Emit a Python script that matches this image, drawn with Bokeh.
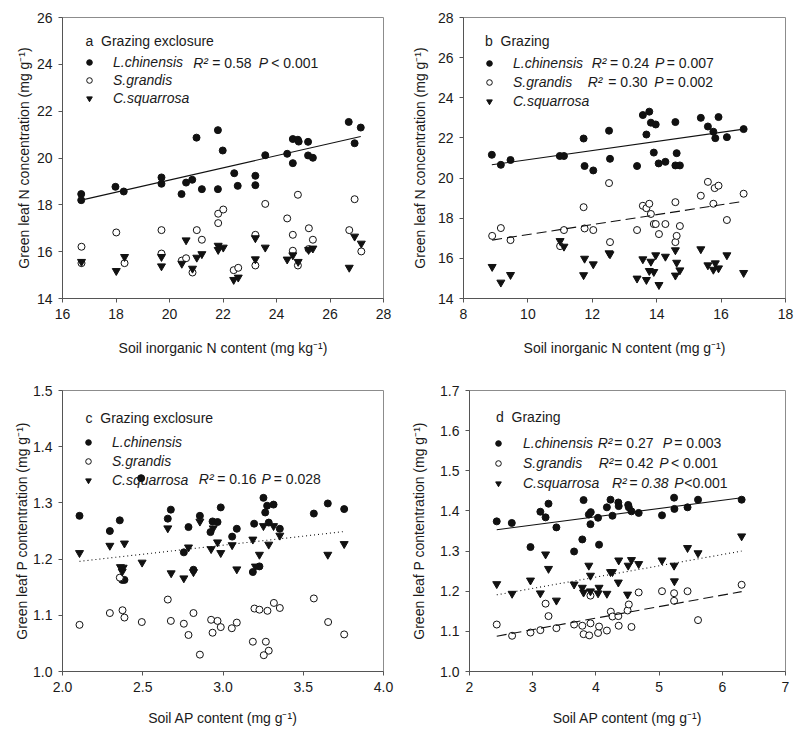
from bokeh.plotting import figure
from bokeh.models import Range1d, FixedTicker, Label, Legend, LegendItem
from bokeh.layouts import column, row
from bokeh.embed import file_html
from bokeh.resources import INLINE

FONT = "Liberation Sans"
TXT = "#1a1a1a"
MK = "#111111"

# ---------------- data ----------------
# Panel a: grazing exclosure, soil inorganic N vs green-leaf N
a_L_x = [16.70, 16.70, 17.98, 18.29, 19.70, 19.70, 20.45, 20.62, 20.85, 21.01, 21.21, 21.81, 21.81, 21.99, 22.42,
         22.55, 23.21, 23.21, 23.58, 24.40, 24.61, 24.61, 24.80, 24.83, 25.18, 25.18, 25.36, 26.70, 26.92, 27.15]
a_L_y = [18.46, 18.20, 18.77, 18.57, 19.17, 18.90, 18.46, 18.95, 19.07, 20.87, 18.67, 21.19, 18.67, 20.32, 19.35,
         18.81, 19.24, 18.84, 20.12, 20.18, 19.78, 20.81, 20.78, 20.70, 20.69, 20.11, 20.01, 21.54, 20.63, 21.30]
a_S_x = [16.71, 16.71, 18.01, 18.32, 19.70, 19.70, 20.46, 20.62, 20.86, 21.02, 21.21, 21.82, 21.82, 22.01, 22.40,
         22.57, 23.21, 23.21, 23.58, 24.40, 24.61, 24.61, 24.80, 24.80, 25.21, 25.20, 25.36, 26.72, 26.92, 27.17]
a_S_y = [16.21, 15.51, 16.82, 15.51, 16.92, 15.92, 15.62, 15.72, 15.11, 16.92, 16.51, 17.22, 17.62, 17.80, 15.21,
         15.31, 16.72, 15.41, 18.04, 17.42, 16.72, 16.04, 18.43, 15.41, 17.00, 16.11, 16.51, 16.92, 18.24, 16.01]
a_C_x = [16.71, 18.01, 18.32, 19.70, 19.70, 20.46, 20.62, 20.86, 21.02, 21.21, 21.82, 21.82, 22.01, 22.40, 22.57,
         23.21, 23.21, 23.58, 24.40, 24.61, 24.81, 25.20, 25.36, 26.72, 26.92, 27.17]
a_C_y = [15.57, 15.18, 15.78, 15.78, 15.38, 15.49, 16.49, 15.28, 15.75, 15.90, 16.26, 16.08, 16.18, 14.80, 14.90,
         16.58, 15.68, 16.18, 15.67, 15.85, 15.57, 16.08, 16.14, 15.32, 16.65, 16.35]
a_fitL_x = [16.70, 27.15]
a_fitL_y = [18.20, 20.92]

# Panel b: grazing, soil inorganic N vs green-leaf N
b_L_x = [8.88, 9.16, 9.46, 10.99, 11.12, 11.73, 11.76, 12.03, 12.52, 12.55, 13.39, 13.57, 13.68, 13.77, 13.82,
         13.97, 13.91, 14.06, 14.27, 14.58, 14.62, 14.58, 14.72, 15.37, 15.59, 15.76, 15.82, 15.92, 16.18, 16.70]
b_L_y = [21.16, 20.66, 20.90, 21.10, 21.10, 21.97, 20.60, 20.38, 22.36, 20.96, 20.60, 23.14, 22.17, 23.31, 22.76,
         22.67, 21.27, 20.73, 20.81, 22.79, 21.24, 20.63, 20.63, 23.00, 22.57, 22.31, 21.99, 23.04, 22.04, 22.44]
b_S_x = [8.89, 9.16, 9.46, 11.00, 11.12, 11.73, 11.76, 12.03, 12.52, 12.55, 13.39, 13.57, 13.68, 13.77, 13.82,
         13.91, 13.97, 14.07, 14.27, 14.58, 14.58, 14.62, 14.72, 15.37, 15.59, 15.76, 15.80, 15.92, 16.18, 16.70]
b_S_y = [17.12, 17.51, 16.91, 16.61, 17.41, 18.55, 17.49, 17.41, 19.75, 16.81, 17.41, 18.62, 18.50, 18.72, 18.21,
         17.71, 17.71, 17.21, 17.71, 18.80, 16.81, 17.12, 17.61, 19.12, 19.81, 18.72, 19.50, 19.62, 17.91, 19.22]
b_C_x = [8.89, 9.16, 9.46, 11.00, 11.12, 11.73, 11.76, 12.03, 12.52, 12.55, 13.39, 13.57, 13.68, 13.77, 13.82,
         13.91, 13.97, 14.07, 14.27, 14.58, 14.58, 14.62, 14.72, 15.37, 15.59, 15.76, 15.82, 15.92, 16.18, 16.70]
b_C_y = [15.58, 14.80, 15.18, 16.87, 16.59, 15.17, 15.99, 15.71, 16.26, 16.21, 15.00, 15.96, 14.93, 15.38, 15.84,
         15.33, 16.16, 14.68, 16.09, 16.41, 15.15, 15.79, 15.41, 16.46, 15.66, 15.44, 15.76, 15.51, 16.16, 15.28]
b_fitL_x = [8.88, 16.70]
b_fitL_y = [20.66, 22.44]
b_fitS_x = [8.89, 16.64]
b_fitS_y = [16.91, 18.83]

# Panel c: grazing exclosure, soil AP vs green-leaf P
c_L_x = [2.106, 2.295, 2.357, 2.490, 2.656, 2.675, 2.756, 2.785, 2.856, 2.922, 2.935, 2.966, 2.986, 3.057, 3.086,
         3.194, 3.252, 3.275, 3.263, 3.315, 3.285, 3.354, 3.566, 3.653, 3.755, 2.372, 2.386, 2.816, 3.186, 3.227]
c_L_y = [1.277, 1.250, 1.269, 1.344, 1.272, 1.288, 1.212, 1.257, 1.277, 1.248, 1.267, 1.266, 1.292, 1.240, 1.254,
         1.263, 1.309, 1.295, 1.283, 1.297, 1.265, 1.254, 1.281, 1.299, 1.289, 1.163, 1.163, 1.181, 1.177, 1.187]
c_S_x = [2.106, 2.295, 2.374, 2.386, 2.357, 2.494, 2.656, 2.675, 2.756, 2.785, 2.816, 2.856, 2.926, 2.935, 2.966,
         2.986, 3.055, 3.086, 3.186, 3.196, 3.227, 3.267, 3.277, 3.285, 3.254, 3.317, 3.354, 3.566, 3.655, 3.755]
c_S_y = [1.083, 1.104, 1.109, 1.096, 1.167, 1.088, 1.128, 1.090, 1.085, 1.065, 1.104, 1.030, 1.092, 1.069, 1.090,
         1.079, 1.077, 1.087, 1.053, 1.112, 1.110, 1.053, 1.108, 1.037, 1.029, 1.122, 1.113, 1.130, 1.088, 1.066]
c_C_x = [2.106, 2.295, 2.386, 2.656, 2.785, 2.856, 2.926, 2.939, 2.966, 2.986, 3.057, 3.186, 3.227, 3.252, 3.285,
         3.315, 3.354, 3.653, 3.755, 2.496, 2.361, 2.378, 2.372, 2.677, 2.756, 2.816, 3.086, 3.202]
c_C_y = [1.211, 1.224, 1.228, 1.255, 1.221, 1.267, 1.218, 1.255, 1.230, 1.211, 1.225, 1.235, 1.208, 1.259, 1.226,
         1.259, 1.242, 1.208, 1.227, 1.194, 1.186, 1.185, 1.178, 1.175, 1.166, 1.177, 1.182, 1.187]
c_fitC_x = [2.106, 3.755]
c_fitC_y = [1.196, 1.249]

# Panel d: grazing, soil AP vs green-leaf P
d_L_x = [2.431, 2.669, 2.965, 3.121, 3.204, 3.250, 3.375, 3.655, 3.785, 3.805, 3.888, 3.914, 3.919, 4.034, 4.050,
         4.174, 4.231, 4.262, 4.355, 4.361, 4.511, 4.521, 4.563, 4.677, 5.046, 5.237, 5.242, 5.450, 5.616, 6.306]
d_L_y = [1.374, 1.370, 1.310, 1.398, 1.384, 1.418, 1.359, 1.299, 1.329, 1.427, 1.391, 1.367, 1.397, 1.383, 1.316,
         1.409, 1.428, 1.388, 1.421, 1.412, 1.415, 1.409, 1.399, 1.395, 1.389, 1.433, 1.405, 1.409, 1.428, 1.428]
d_S_x = [2.431, 2.674, 2.965, 3.121, 3.204, 3.250, 3.375, 3.655, 3.785, 3.805, 3.894, 3.914, 3.914, 4.034, 4.050,
         4.174, 4.236, 4.262, 4.355, 4.361, 4.501, 4.521, 4.563, 4.677, 5.046, 5.237, 5.237, 5.450, 5.616, 6.306]
d_S_y = [1.117, 1.089, 1.097, 1.103, 1.169, 1.138, 1.108, 1.117, 1.114, 1.093, 1.090, 1.189, 1.120, 1.096, 1.112,
         1.102, 1.149, 1.137, 1.138, 1.114, 1.152, 1.167, 1.111, 1.197, 1.200, 1.195, 1.176, 1.200, 1.128, 1.216]
d_C_x = [2.431, 2.674, 2.965, 3.121, 3.204, 3.250, 3.375, 3.655, 3.785, 3.805, 3.888, 3.914, 3.914, 4.034, 4.050,
         4.174, 4.231, 4.262, 4.355, 4.361, 4.501, 4.511, 4.563, 4.677, 5.046, 5.237, 5.242, 5.450, 5.616, 6.306]
d_C_y = [1.218, 1.194, 1.227, 1.195, 1.292, 1.256, 1.177, 1.217, 1.209, 1.197, 1.264, 1.239, 1.200, 1.195, 1.209,
         1.194, 1.248, 1.248, 1.222, 1.277, 1.192, 1.264, 1.278, 1.268, 1.277, 1.264, 1.225, 1.308, 1.295, 1.337]
d_fitL_x = [2.431, 6.306]
d_fitL_y = [1.353, 1.433]
d_fitS_x = [2.431, 6.306]
d_fitS_y = [1.088, 1.199]
d_fitC_x = [2.431, 6.306]
d_fitC_y = [1.191, 1.300]

# axis ticks
a_xticks = [16, 18, 20, 22, 24, 26, 28]
a_yticks = [14, 16, 18, 20, 22, 24, 26]
b_xticks = [8, 10, 12, 14, 16, 18]
b_yticks = [14, 16, 18, 20, 22, 24, 26, 28]
c_xticks = [2.0, 2.5, 3.0, 3.5, 4.0]
c_yticks = [1.0, 1.1, 1.2, 1.3, 1.4, 1.5]
d_xticks = [2, 3, 4, 5, 6, 7]
d_yticks = [1.0, 1.1, 1.2, 1.3, 1.4, 1.5, 1.6, 1.7]

species = ["L.chinensis", "S.grandis", "C.squarrosa"]

FH = 281  # frame height


def fmt_labels(ticks, nd):
    return {t: (f"{t:.{nd}f}") for t in ticks}


def make_panel(xr, yr, xt, yt, xnd, ynd, xlabel, ylabel, w, h, bl, br, bt, bb, xstand, ystand):
    p = figure(width=w, height=h, x_range=Range1d(*xr), y_range=Range1d(*yr),
               output_backend="svg", toolbar_location=None,
               min_border_left=bl, min_border_right=br, min_border_top=bt, min_border_bottom=bb)
    p.grid.visible = False
    p.outline_line_color = "#8c8c8c"
    p.outline_line_width = 1
    p.background_fill_color = "white"
    p.border_fill_color = "white"
    p.xaxis.ticker = FixedTicker(ticks=xt)
    p.yaxis.ticker = FixedTicker(ticks=yt)
    p.xaxis.major_label_overrides = fmt_labels(xt, xnd)
    p.yaxis.major_label_overrides = fmt_labels(yt, ynd)
    for ax in (p.xaxis[0], p.yaxis[0]):
        ax.axis_line_color = "#555555"
        ax.major_tick_line_color = "#555555"
        ax.major_tick_out = 4
        ax.major_tick_in = 0
        ax.minor_tick_line_color = None
        ax.major_label_text_font = FONT
        ax.major_label_text_font_size = "14px"
        ax.major_label_text_color = TXT
        ax.major_label_standoff = 6
        ax.axis_label_text_font = FONT
        ax.axis_label_text_font_size = "14px"
        ax.axis_label_text_font_style = "normal"
        ax.axis_label_text_color = TXT
    p.xaxis.axis_label = xlabel
    p.yaxis.axis_label = ylabel
    p.xaxis.axis_label_standoff = xstand
    p.yaxis.axis_label_standoff = ystand
    return p


def add_points(p, Lx, Ly, Sx, Sy, Cx, Cy):
    rL = p.scatter(Lx, Ly, marker="circle", size=7, fill_color=MK, line_color=MK)
    rS = p.scatter(Sx, Sy, marker="circle", size=7, fill_color="white", line_color=MK, line_width=1)
    rC = p.scatter(Cx, Cy, marker="inverted_triangle", size=8, fill_color=MK, line_color=MK)
    return rL, rS, rC


def txt(p, x, ytop, text, style="normal"):
    p.add_layout(Label(x=x, y=FH - ytop, x_units="screen", y_units="screen", text=text,
                       text_font=FONT, text_font_size="14px", text_font_style=style,
                       text_color=TXT, text_baseline="middle", text_align="left"))


def legend(p, rends, xc, y1, pitch, standoff):
    items = [LegendItem(label=s, renderers=[r]) for s, r in zip(species, rends)]
    vx = round(xc - 7)
    vy = round(FH - (y1 - pitch / 2) - 3 * pitch)
    lg = Legend(items=items, location=(vx, vy), padding=0, margin=0, spacing=0,
                border_line_color=None, background_fill_alpha=0,
                label_text_font=FONT, label_text_font_size="14px", label_text_font_style="italic",
                label_text_color=TXT, glyph_width=14, glyph_height=14, label_height=int(pitch),
                label_standoff=standoff)
    p.add_layout(lg)


def stats(p, y, xs, parts):
    for x, (t, st) in zip(xs, parts):
        txt(p, x, y, t, st)


NLAB = "Green leaf N concentration (mg g\u207b\u00b9)"
PLAB = "Green leaf P contentration (mg g\u207b\u00b9)"

# ---- panel a ----
pa = make_panel((16, 28), (14, 26), a_xticks, a_yticks, 0, 0,
                "Soil inorganic N content (mg kg\u207b\u00b9)", NLAB, 408, 378, 62, 25, 17, 80, 18, 2)
ra = add_points(pa, a_L_x, a_L_y, a_S_x, a_S_y, a_C_x, a_C_y)
pa.line(a_fitL_x, a_fitL_y, line_color=MK, line_width=1.1)
txt(pa, 23, 23.3, "a\u00a0 Grazing exclosure")
legend(pa, ra, 27, 45, 18, 17)
stats(pa, 45, [130.7, 149.7, 196.3, 208.7],
      [("R\u00b2", "italic"), ("= 0.58", "normal"), ("P", "italic"), ("< 0.001", "normal")])

# ---- panel b ----
pb = make_panel((8, 18), (14, 28), b_xticks, b_yticks, 0, 0,
                "Soil inorganic N content (mg g\u207b\u00b9)", NLAB, 392, 378, 55, 15, 17, 80, 18, 7)
rb = add_points(pb, b_L_x, b_L_y, b_S_x, b_S_y, b_C_x, b_C_y)
pb.line(b_fitL_x, b_fitL_y, line_color=MK, line_width=1.1)
pb.line(b_fitS_x, b_fitS_y, line_color=MK, line_width=1.1, line_dash="10 5")
txt(pb, 21.5, 23.3, "b\u00a0 Grazing")
legend(pb, rb, 26, 45, 19, 17)
stats(pb, 45, [128.2, 146.5, 191.5, 203.2],
      [("R\u00b2", "italic"), ("= 0.24", "normal"), ("P", "italic"), ("= 0.007", "normal")])
stats(pb, 64, [124.2, 144.8, 190.8, 202.5],
      [("R\u00b2", "italic"), ("= 0.30", "normal"), ("P", "italic"), ("= 0.002", "normal")])

# ---- panel c ----
pc = make_panel((2.0, 4.0), (1.0, 1.5), c_xticks, c_yticks, 1, 1,
                "Soil AP content (mg g\u207b\u00b9)", PLAB, 408, 358, 62, 25, 12, 65, 15, 0)
rc = add_points(pc, c_L_x, c_L_y, c_S_x, c_S_y, c_C_x, c_C_y)
pc.line(c_fitC_x, c_fitC_y, line_color=MK, line_width=1.1, line_dash="1 3")
txt(pc, 23, 27.3, "c\u00a0 Grazing exclosure")
legend(pc, rc, 26.3, 51, 19, 17)
stats(pc, 88.3, [136.3, 154.7, 199, 211.3],
      [("R\u00b2", "italic"), ("= 0.16", "normal"), ("P", "italic"), ("= 0.028", "normal")])

# ---- panel d ----
pd_ = make_panel((2, 7), (1.0, 1.7), d_xticks, d_yticks, 0, 1,
                 "Soil AP content (mg g\u207b\u00b9)", PLAB, 392, 358, 55, 15, 12, 65, 15, 10)
rd = add_points(pd_, d_L_x, d_L_y, d_S_x, d_S_y, d_C_x, d_C_y)
pd_.line(d_fitL_x, d_fitL_y, line_color=MK, line_width=1.1)
pd_.line(d_fitS_x, d_fitS_y, line_color=MK, line_width=1.1, line_dash="10 5")
pd_.line(d_fitC_x, d_fitC_y, line_color=MK, line_width=1.1, line_dash="1 3")
txt(pd_, 26.5, 26.7, "d\u00a0 Grazing")
legend(pd_, rd, 29.2, 52.7, 20, 18)
stats(pd_, 52.7, [128.2, 144.8, 193.2, 204.8],
      [("R\u00b2", "italic"), ("= 0.27", "normal"), ("P", "italic"), ("= 0.003", "normal")])
stats(pd_, 72.7, [129.2, 144.8, 189.8, 201.5],
      [("R\u00b2", "italic"), ("= 0.42", "normal"), ("P", "italic"), ("< 0.001", "normal")])
stats(pd_, 92.7, [142.5, 159.8, 204.8, 214.8],
      [("R\u00b2", "italic"), ("= 0.38", "italic"), ("P", "italic"), ("<0.001", "normal")])

layout = column(row(pa, pb), row(pc, pd_))
open("out.html", "w").write(file_html(layout, INLINE))
